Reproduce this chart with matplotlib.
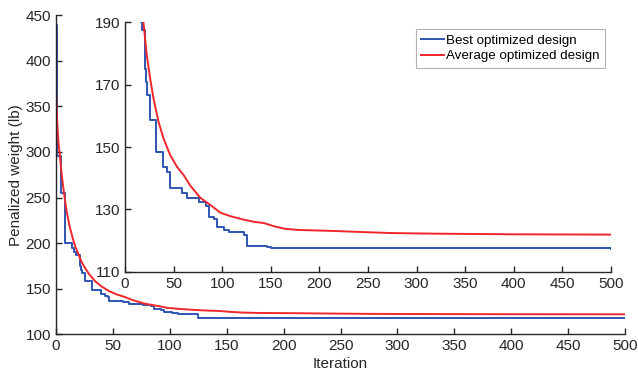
import matplotlib
matplotlib.use('Agg')
import matplotlib.pyplot as plt
import numpy as np

plt.rcParams['font.family'] = ['Liberation Sans', 'DejaVu Sans']

# best design (step curve): iteration where the value starts, value
best_it = [0, 0.8, 4.5, 8, 14, 16, 17.2, 21, 21.7, 23, 25.9, 32, 39.6, 43,
           45.8, 46.5, 58.6, 63.8, 76.5, 83.8, 86.2, 92, 94.8, 101.7, 106.9,
           122.4, 125.1, 146.5, 150, 200, 500]
best_val = [439, 296, 255, 200, 195, 190, 187.5, 175, 171, 166.7, 158.7,
            148.3, 143.7, 142, 140.5, 136.7, 135.1, 133.7, 132.5, 131.2,
            127.6, 126.8, 124.4, 123.4, 122.6, 121.8, 118.3, 118.0, 117.6,
            117.5, 117.4]

# average design
avg_it = [0, 1, 2, 3.5, 5, 7, 9.3, 12, 15, 17, 19, 22.4, 25.9, 29.3, 34.5,
          39.6, 46.5, 53.4, 60.3, 67.2, 77.5, 87.9, 98.2, 108.6, 122, 133,
          143, 153, 164, 178, 212, 246, 274, 320, 400, 500]
avg_val = [368, 335, 312, 295, 275, 255, 235, 218, 204, 196, 190, 179.5,
           172, 165.6, 158.1, 152.8, 147.4, 143.7, 141.0, 137.6, 133.7, 131.4,
           128.9, 127.8, 126.7, 126.0, 125.6, 124.6, 123.8, 123.4, 123.1,
           122.7, 122.4, 122.2, 122.0, 121.9]

blue = '#2f55b3'
red = '#f0262b'
dark = '#262626'


def style(ax):
    for s in ['top', 'right']:
        ax.spines[s].set_visible(False)
    for s in ['left', 'bottom']:
        ax.spines[s].set_color(dark)
        ax.spines[s].set_linewidth(1.0)
    ax.tick_params(direction='in', length=4, width=1.0, colors=dark,
                   labelsize=11, labelcolor=dark)


def draw(ax):
    ax.plot(best_it, best_val, color=blue, lw=1.4, drawstyle='steps-post',
            label='Best optimized design')
    ax.plot(avg_it, avg_val, color=red, lw=1.4,
            label='Average optimized design')


fig = plt.figure(figsize=(6.38, 3.79), dpi=100)

ax = fig.add_axes([0.0878, 0.118, 0.892, 0.8417])
draw(ax)
style(ax)
ax.set(xlim=[0, 500], ylim=[100, 450],
       xticks=np.arange(0, 550, 50), yticks=np.arange(100, 500, 50))
ax.set_xlabel('Iteration', fontsize=11, color=dark, labelpad=3)
ax.set_ylabel('Penalized weight (lb)', fontsize=11, color=dark, labelpad=2)

ins = fig.add_axes([0.1959, 0.2831, 0.7618, 0.658])
draw(ins)
style(ins)
ins.set(xlim=[0, 500], ylim=[110, 190],
        xticks=np.arange(0, 550, 50), yticks=np.arange(110, 200, 20))
ins.patch.set_alpha(0)

leg = ins.legend(loc='upper right', bbox_to_anchor=(0.988, 0.972),
                 fontsize=9.6, frameon=True, fancybox=False, handlelength=1.75,
                 handletextpad=0.15, borderpad=0.4, labelspacing=0.22,
                 borderaxespad=0)
leg.get_frame().set_edgecolor('#a0a0a0')
leg.get_frame().set_linewidth(0.8)

fig.savefig('out.png', dpi=100)
